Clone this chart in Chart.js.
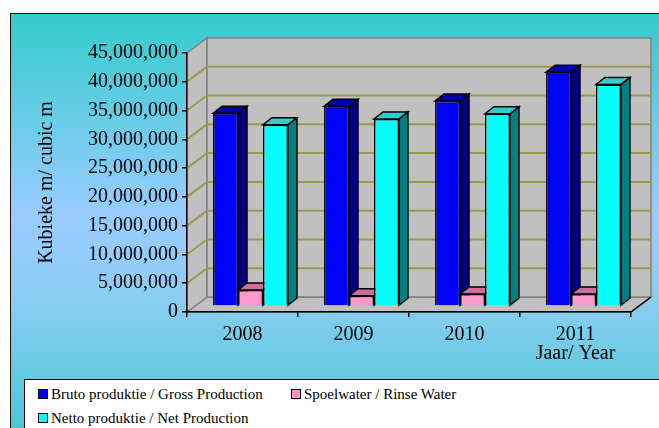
<!DOCTYPE html>
<html>
<head>
<meta charset="UTF-8">
<script src="https://cdn.jsdelivr.net/npm/chart.js"></script>
<style>
  body { margin: 0; background: #fff; width: 659px; height: 428px; overflow: hidden; position: relative; }
  #frame { position: absolute; left: 10px; top: 13px; width: 680px; height: 427px; border: 1px solid #111;
    background: linear-gradient(to bottom, #33cccc 0%, #99ccff 47%, #8ecdf4 65%, #44c8d0 100%); }
  #c { position: absolute; left: 0; top: 0; }
  #legend { position: absolute; left: 24px; top: 379px; width: 660px; height: 70px; background: #fff; border: 1px solid #000;
    font-family: 'Liberation Serif', 'Times New Roman', serif; font-size: 15px; color: #000; }
  .item { position: absolute; white-space: nowrap; line-height: 18px; }
  .box { display: inline-block; width: 8px; height: 8px; border: 1px solid #000; margin-right: 3px; vertical-align: 0px; }
</style>
</head>
<body>
<div id="frame"></div>
<canvas id="c" width="659" height="428"></canvas>
<div id="legend"></div>

<script>
  // data
  var years = ['2008', '2009', '2010', '2011'];
  var bruto = [33500000, 34700000, 35600000, 40600000];
  var spoelwater = [2800000, 1800000, 2100000, 2100000];
  var netto = [31500000, 32500000, 33400000, 38500000];
  var seriesNames = ['Bruto produktie / Gross Production', 'Spoelwater / Rinse Water', 'Netto produktie / Net Production'];

  var fontFam = "'Liberation Serif', 'Times New Roman', serif";
  var frontCol = ['#0000ff', '#ff99cc', '#00ffff'];
  var sideCol = ['#000080', '#cc6699', '#008080'];
  var topCol = ['#0000aa', '#cc6f99', '#33cccc'];

  // 3D look: wall depth and bar depth
  var wallDx = 20, wallDy = -15;
  var planeDx = 8, planeDy = -6;
  var barDx = 9, barDy = -7;

  function poly(ctx, pts, fill, stroke, lw) {
    ctx.beginPath();
    ctx.moveTo(pts[0][0], pts[0][1]);
    for (var i = 1; i < pts.length; i++) ctx.lineTo(pts[i][0], pts[i][1]);
    ctx.closePath();
    if (fill) { ctx.fillStyle = fill; ctx.fill(); }
    if (stroke) { ctx.strokeStyle = stroke; ctx.lineWidth = lw || 1; ctx.stroke(); }
  }

  var walls = {
    id: 'walls',
    beforeDraw: function (chart) {
      var ctx = chart.ctx;
      var a = chart.chartArea;
      var L = a.left, R = a.right, T = a.top, B = a.bottom;
      ctx.save();
      // floor, left wall, back wall
      poly(ctx, [[L, B], [R, B], [R + wallDx, B + wallDy], [L + wallDx, B + wallDy]], '#c0c0c0', '#808080', 1.5);
      poly(ctx, [[L, T], [L + wallDx, T + wallDy], [L + wallDx, B + wallDy], [L, B]], '#c0c0c0', '#808080', 1.5);
      poly(ctx, [[L + wallDx, T + wallDy], [R + wallDx, T + wallDy], [R + wallDx, B + wallDy], [L + wallDx, B + wallDy]], '#c0c0c0', '#808080', 1.5);
      // gridlines
      var ys = chart.scales.y;
      ys.ticks.forEach(function (t) {
        if (t.value <= ys.min || t.value >= ys.max) return;
        var y = ys.getPixelForValue(t.value);
        ctx.beginPath();
        ctx.moveTo(L, y);
        ctx.lineTo(L + wallDx, y + wallDy);
        ctx.lineTo(R + wallDx, y + wallDy);
        ctx.strokeStyle = '#9a9a48';
        ctx.lineWidth = 2;
        ctx.stroke();
      });
      // right edge of the floor
      ctx.beginPath();
      ctx.moveTo(R, B);
      ctx.lineTo(R + wallDx, B + wallDy);
      ctx.strokeStyle = '#000';
      ctx.lineWidth = 1.5;
      ctx.stroke();
      ctx.restore();
    },
    beforeDatasetsDraw: function (chart) {
      var ctx = chart.ctx;
      ctx.save();
      ctx.translate(planeDx, planeDy);
      for (var i = 0; i < years.length; i++) {
        for (var d = 0; d < chart.data.datasets.length; d++) {
          var el = chart.getDatasetMeta(d).data[i];
          var p = el.getProps(['x', 'y', 'base', 'width'], true);
          var l = p.x - p.width / 2, r = p.x + p.width / 2;
          // side
          poly(ctx, [[r, p.base], [r, p.y], [r + barDx, p.y + barDy], [r + barDx, p.base + barDy]], sideCol[d], '#000', 1.5);
          // top
          poly(ctx, [[l, p.y], [r, p.y], [r + barDx, p.y + barDy], [l + barDx, p.y + barDy]], topCol[d], '#000', 1.5);
        }
      }
    },
    afterDatasetsDraw: function (chart) {
      chart.ctx.restore();
    },
    afterDraw: function (chart) {
      var ctx = chart.ctx;
      var xs = chart.scales.x;
      ctx.save();
      ctx.font = '20px ' + fontFam;
      ctx.fillStyle = '#000';
      ctx.textAlign = 'center';
      ctx.textBaseline = 'middle';
      ctx.fillText('Jaar/ Year', xs.getPixelForTick(years.length - 1), 354);
      ctx.restore();
    }
  };

  var chart = new Chart(document.getElementById('c'), {
    type: 'bar',
    data: {
      labels: years,
      datasets: [
        { label: seriesNames[0], data: bruto, backgroundColor: frontCol[0] },
        { label: seriesNames[1], data: spoelwater, backgroundColor: frontCol[1] },
        { label: seriesNames[2], data: netto, backgroundColor: frontCol[2] }
      ]
    },
    options: {
      responsive: false,
      animation: false,
      devicePixelRatio: 1,
      layout: { padding: { left: 0, top: 53, right: 28, bottom: 86 } },
      datasets: {
        bar: { borderColor: '#000', borderWidth: 1.5, categoryPercentage: 0.675, barPercentage: 1.0 }
      },
      plugins: {
        legend: { display: false },
        tooltip: { enabled: false }
      },
      scales: {
        x: {
          afterFit: function (s) { s.height = 30; },
          grid: { display: true, drawOnChartArea: false, offset: true, color: '#000', tickLength: 5, lineWidth: 1.5 },
          border: { display: true, color: '#000', width: 1.5 },
          ticks: { color: '#000', padding: 6, font: { family: fontFam, size: 20 } }
        },
        y: {
          min: 0,
          max: 45000000,
          afterFit: function (s) { s.width = 187; },
          grid: { display: true, drawOnChartArea: false, color: '#000', tickLength: 5, lineWidth: 1.5 },
          border: { display: true, color: '#000', width: 1.5 },
          ticks: {
            stepSize: 5000000,
            color: '#000',
            padding: 4,
            font: { family: fontFam, size: 20 },
            callback: function (v) { return v.toLocaleString('en-US'); }
          },
          title: {
            display: true,
            text: 'Kubieke m/ cubic m',
            color: '#000',
            padding: { top: 35, bottom: 0 },
            font: { family: fontFam, size: 20 }
          }
        }
      }
    },
    plugins: [walls]
  });

  // legend in the white box, built from the chart's datasets
  var legendPos = [[13, 5], [266, 5], [13, 29]];
  var legendEl = document.getElementById('legend');
  chart.data.datasets.forEach(function (ds, i) {
    var item = document.createElement('div');
    item.className = 'item';
    item.style.left = legendPos[i][0] + 'px';
    item.style.top = legendPos[i][1] + 'px';
    item.innerHTML = '<span class="box" style="background:' + ds.backgroundColor + '"></span>' + ds.label;
    legendEl.appendChild(item);
  });
</script>
</body>
</html>
